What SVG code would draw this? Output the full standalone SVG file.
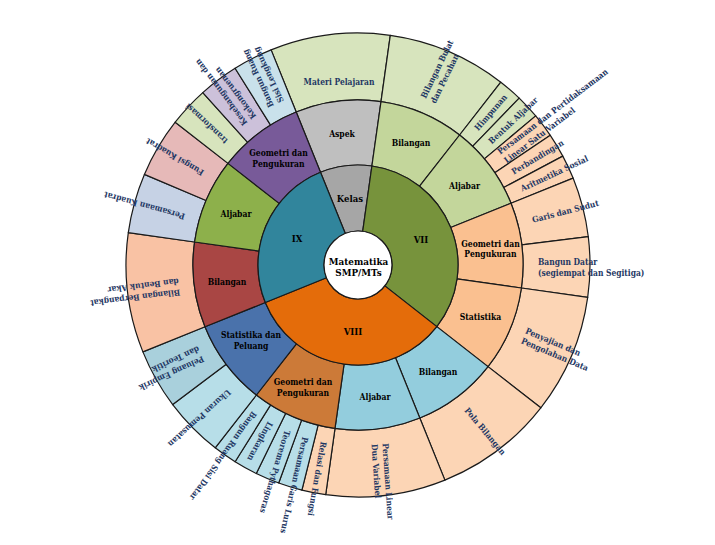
<svg xmlns="http://www.w3.org/2000/svg" width="715" height="545" viewBox="0 0 715 545">
<style>
path{stroke:#1a1a1a;stroke-width:1.2;stroke-linejoin:round}
text{font-family:"DejaVu Serif Condensed","DejaVu Serif",serif;font-stretch:condensed;font-weight:bold}
.l1{font-size:9.5px;fill:#000;text-anchor:middle}
.l2{font-size:8.5px;fill:#000;text-anchor:middle}
.l3{font-size:8.4px;fill:#1f3864}
.c{font-size:9.8px;fill:#000;text-anchor:middle}
.gray1{fill:#a6a6a6}.g7{fill:#77933c}.o8{fill:#e46c0a}.t9{fill:#31859c}
.gray2{fill:#bfbfbf}.lg{fill:#c3d69b}.pe{fill:#fac090}.lb{fill:#93cddd}.br{fill:#cc7a38}.bl{fill:#4a72ab}.rd{fill:#a94644}.gr{fill:#8db04b}.pu{fill:#785a99}
.g3{fill:#d7e4bd}.p3{fill:#fcd5b5}.b3{fill:#b7dee8}.pl3{fill:#a9d0dc}.s3{fill:#f9c2a4}.k3{fill:#c6d2e5}.f3{fill:#e6b9b8}.v3{fill:#ccc1da}.c3{fill:#c9e1eb}
</style>
<rect width="715" height="545" fill="#fff"/>

<g id="ring3">
<g id="materi-pelajaran"><path class="g3" d="M271.1,49.9A232,232 0 0 1 390.3,35.3L381,101.6A165,165 0 0 0 296.2,112Z"/><text class="l3" x="339" y="85" text-anchor="middle">Materi Pelajaran</text></g>
<g id="bilangan-bulat"><path class="g3" d="M390.3,35.3A232,232 0 0 1 500.8,82.2L459.6,135A165,165 0 0 0 381,101.6Z"/><text class="l3" transform="translate(427.9,100.2) rotate(-64)"><tspan x="0" y="-2.5">Bilangan Bulat</tspan><tspan x="0" y="8.5">dan Pecahan</tspan></text></g>
<g id="himpunan"><path class="g3" d="M500.8,82.2A232,232 0 0 1 519.2,98.1L472.6,146.3A165,165 0 0 0 459.6,135Z"/><text class="l3" transform="translate(476.1,129.2) rotate(-49)"><tspan x="0" y="3">Himpunan</tspan></text></g>
<g id="bentuk-aljabar"><path class="g3" d="M519.2,98.1A232,232 0 0 1 535.7,115.9L484.4,158.9A165,165 0 0 0 472.6,146.3Z"/><text class="l3" transform="translate(489.7,142.2) rotate(-43)"><tspan x="0" y="3">Bentuk Aljabar</tspan></text></g>
<g id="persamaan-pertidaksamaan"><path class="p3" d="M535.7,115.9A232,232 0 0 1 550.3,135.3L494.8,172.7A165,165 0 0 0 484.4,158.9Z"/><text class="l3" transform="translate(501.7,156.7) rotate(-37)"><tspan x="0" y="-2.5">Persamaan dan Pertidaksamaan</tspan><tspan x="0" y="8.5">Linear Satu Variabel</tspan></text></g>
<g id="perbandingan"><path class="p3" d="M550.3,135.3A232,232 0 0 1 562.8,156.1L503.7,187.5A165,165 0 0 0 494.8,172.7Z"/><text class="l3" transform="translate(512.3,172.3) rotate(-31)"><tspan x="0" y="3">Perbandingan</tspan></text></g>
<g id="aritmetika-sosial"><path class="p3" d="M562.8,156.1A232,232 0 0 1 573.1,178.1L511,203.2A165,165 0 0 0 503.7,187.5Z"/><text class="l3" transform="translate(521.1,188.9) rotate(-25)"><tspan x="0" y="3">Aritmetika Sosial</tspan></text></g>
<g id="garis-sudut"><path class="p3" d="M573.1,178.1A232,232 0 0 1 588.3,236.7L521.8,244.9A165,165 0 0 0 511,203.2Z"/><text class="l3" transform="translate(532.3,219.9) rotate(-14.5)"><tspan x="0" y="3">Garis dan Sudut</tspan></text></g>
<g id="bangun-datar"><path class="p3" d="M588.3,236.7A232,232 0 0 1 587.7,297.3L521.4,288A165,165 0 0 0 521.8,244.9Z"/><text class="l3" transform="translate(538,267.5)"><tspan x="0" y="-2.5">Bangun Datar</tspan><tspan x="0" y="8.5">(segiempat dan Segitiga)</tspan></text></g>
<g id="penyajian-data"><path class="p3" d="M587.7,297.3A232,232 0 0 1 540.8,407.8L488,366.6A165,165 0 0 0 521.4,288Z"/><text class="l3" transform="translate(523.7,335.3) rotate(23)"><tspan x="0" y="-2.5">Penyajian dan</tspan><tspan x="0" y="8.5">Pengolahan Data</tspan></text></g>
<g id="pola-bilangan"><path class="p3" d="M540.8,407.8A232,232 0 0 1 444.9,480.1L419.8,418A165,165 0 0 0 488,366.6Z"/><text class="l3" transform="translate(466.3,408.7) rotate(50)"><tspan x="0" y="3">Pola Bilangan</tspan></text></g>
<g id="pldv"><path class="p3" d="M444.9,480.1A232,232 0 0 1 325.7,494.7L335,428.4A165,165 0 0 0 419.8,418Z"/><text class="l3" transform="translate(379.9,443.7) rotate(86)"><tspan x="0" y="-2.5">Persamaan Linear</tspan><tspan x="0" y="8.5">Dua Variabel</tspan></text></g>
<g id="relasi-fungsi"><path class="p3" d="M325.7,494.7A232,232 0 0 1 301.9,490.1L318.1,425.1A165,165 0 0 0 335,428.4Z"/><text class="l3" transform="translate(323.7,441.7) rotate(100)"><tspan x="0" y="3">Relasi dan Fungsi</tspan></text></g>
<g id="persamaan-garis-lurus"><path class="b3" d="M301.9,490.1A232,232 0 0 1 278.7,483L301.6,420.1A165,165 0 0 0 318.1,425.1Z"/><text class="l3" transform="translate(305.4,437.1) rotate(103)"><tspan x="0" y="3">Persamaan Garis Lurus</tspan></text></g>
<g id="teorema-pythagoras"><path class="b3" d="M278.7,483A232,232 0 0 1 256.3,473.5L285.7,413.3A165,165 0 0 0 301.6,420.1Z"/><text class="l3" transform="translate(287.7,430.7) rotate(107)"><tspan x="0" y="3">Teorema Pythagoras</tspan></text></g>
<g id="lingkaran"><path class="b3" d="M256.3,473.5A232,232 0 0 1 235.1,461.7L270.6,404.9A165,165 0 0 0 285.7,413.3Z"/><text class="l3" transform="translate(270.7,422.4) rotate(119)"><tspan x="0" y="3">Lingkaran</tspan></text></g>
<g id="bangun-ruang-sisi-datar"><path class="b3" d="M235.1,461.7A232,232 0 0 1 215.2,447.8L256.4,395A165,165 0 0 0 270.6,404.9Z"/><text class="l3" transform="translate(254.8,412.5) rotate(126)"><tspan x="0" y="3">Bangun Ruang Sisi Datar</tspan></text></g>
<g id="ukuran-pemusatan"><path class="b3" d="M215.2,447.8A232,232 0 0 1 172.7,404.6L226.2,364.3A165,165 0 0 0 256.4,395Z"/><text class="l3" transform="translate(229.6,391.2) rotate(138)"><tspan x="0" y="3">Ukuran Pemusatan</tspan></text></g>
<g id="peluang"><path class="pl3" d="M172.7,404.6A232,232 0 0 1 142.9,351.9L205,326.8A165,165 0 0 0 226.2,364.3Z"/><text class="l3" transform="translate(201.3,353.6) rotate(155)"><tspan x="0" y="-2.5">Peluang Empirik</tspan><tspan x="0" y="8.5">dan Teoritik</tspan></text></g>
<g id="bilangan-berpangkat"><path class="s3" d="M142.9,351.9A232,232 0 0 1 128.3,232.7L194.6,242A165,165 0 0 0 205,326.8Z"/><text class="l3" transform="translate(179.4,286.9) rotate(173)"><tspan x="0" y="-2.5">Bilangan Berpangkat</tspan><tspan x="0" y="8.5">dan Bentuk Akar</tspan></text></g>
<g id="persamaan-kuadrat"><path class="k3" d="M128.3,232.7A232,232 0 0 1 144.4,174.4L206.1,200.5A165,165 0 0 0 194.6,242Z"/><text class="l3" transform="translate(184.6,216.9) rotate(195.5)"><tspan x="0" y="3">Persamaan Kuadrat</tspan></text></g>
<g id="fungsi-kuadrat"><path class="f3" d="M144.4,174.4A232,232 0 0 1 175.2,122.2L228,163.4A165,165 0 0 0 206.1,200.5Z"/><text class="l3" transform="translate(202.9,173.7) rotate(210.5)"><tspan x="0" y="3">Fungsi Kuadrat</tspan></text></g>
<g id="transformasi"><path class="g3" d="M175.2,122.2A232,232 0 0 1 202.8,92.6L247.6,142.4A165,165 0 0 0 228,163.4Z"/><text class="l3" transform="translate(226.3,142.2) rotate(223)"><tspan x="0" y="3">transformasi</tspan></text></g>
<g id="kesebangunan"><path class="v3" d="M202.8,92.6A232,232 0 0 1 235.1,68.3L270.6,125.1A165,165 0 0 0 247.6,142.4Z"/><text class="l3" transform="translate(249.7,121.3) rotate(233)"><tspan x="0" y="-2.5">Kesebangunan dan</tspan><tspan x="0" y="8.5">Kekongruenan</tspan></text></g>
<g id="bangun-ruang-sisi-lengkung"><path class="c3" d="M235.1,68.3A232,232 0 0 1 271.1,49.9L296.2,112A165,165 0 0 0 270.6,125.1Z"/><text class="l3" transform="translate(276.3,104.6) rotate(245)"><tspan x="0" y="-2.5">Bangun Ruang</tspan><tspan x="0" y="8.5">Sisi Lengkung</tspan></text></g>
</g>

<g id="ring2">
<g id="aspek"><path class="gray2" d="M296.2,112A165,165 0 0 1 381,101.6L371.9,166A100,100 0 0 0 320.5,172.3Z"/><text class="l2" x="342" y="136.5">Aspek</text></g>
<g id="vii-bilangan"><path class="lg" d="M381,101.6A165,165 0 0 1 459.6,135L419.6,186.2A100,100 0 0 0 371.9,166Z"/><text class="l2" x="411" y="145.5">Bilangan</text></g>
<g id="vii-aljabar"><path class="lg" d="M459.6,135A165,165 0 0 1 511,203.2L450.7,227.5A100,100 0 0 0 419.6,186.2Z"/><text class="l2" x="464.5" y="188.5">Aljabar</text></g>
<g id="vii-geometri"><path class="pe" d="M511,203.2A165,165 0 0 1 521.4,288L457,278.9A100,100 0 0 0 450.7,227.5Z"/><text class="l2" x="490.5" y="246.5">Geometri dan<tspan x="490.5" dy="10.5">Pengukuran</tspan></text></g>
<g id="vii-statistika"><path class="pe" d="M521.4,288A165,165 0 0 1 488,366.6L436.8,326.6A100,100 0 0 0 457,278.9Z"/><text class="l2" x="480.5" y="320">Statistika</text></g>
<g id="viii-bilangan"><path class="lb" d="M488,366.6A165,165 0 0 1 419.8,418L395.5,357.7A100,100 0 0 0 436.8,326.6Z"/><text class="l2" x="438" y="374.5">Bilangan</text></g>
<g id="viii-aljabar"><path class="lb" d="M419.8,418A165,165 0 0 1 335,428.4L344.1,364A100,100 0 0 0 395.5,357.7Z"/><text class="l2" x="375" y="400">Aljabar</text></g>
<g id="viii-geometri"><path class="br" d="M335,428.4A165,165 0 0 1 256.4,395L296.4,343.8A100,100 0 0 0 344.1,364Z"/><text class="l2" x="303" y="385">Geometri dan<tspan x="303" dy="10.5">Pengukuran</tspan></text></g>
<g id="viii-statistika-peluang"><path class="bl" d="M256.4,395A165,165 0 0 1 205,326.8L265.3,302.5A100,100 0 0 0 296.4,343.8Z"/><text class="l2" x="251" y="338">Statistika dan<tspan x="251" dy="10.5">Peluang</tspan></text></g>
<g id="ix-bilangan"><path class="rd" d="M205,326.8A165,165 0 0 1 194.6,242L259,251.1A100,100 0 0 0 265.3,302.5Z"/><text class="l2" x="227" y="284.5">Bilangan</text></g>
<g id="ix-aljabar"><path class="gr" d="M194.6,242A165,165 0 0 1 228,163.4L279.2,203.4A100,100 0 0 0 259,251.1Z"/><text class="l2" x="236" y="216.5">Aljabar</text></g>
<g id="ix-geometri"><path class="pu" d="M228,163.4A165,165 0 0 1 296.2,112L320.5,172.3A100,100 0 0 0 279.2,203.4Z"/><text class="l2" x="278.5" y="156">Geometri dan<tspan x="278.5" dy="10.5">Pengukuran</tspan></text></g>
</g>

<g id="ring1">
<g id="kelas"><path class="gray1" d="M320.5,172.3A100,100 0 0 1 371.9,166L362.7,231.3A34,34 0 0 0 345.3,233.5Z"/><text class="l1" x="350" y="201.5">Kelas</text></g>
<g id="vii"><path class="g7" d="M371.9,166A100,100 0 0 1 436.8,326.6L384.8,285.9A34,34 0 0 0 362.7,231.3Z"/><text class="l1" x="421" y="243">VII</text></g>
<g id="viii"><path class="o8" d="M436.8,326.6A100,100 0 0 1 265.3,302.5L326.5,277.7A34,34 0 0 0 384.8,285.9Z"/><text class="l1" x="353" y="335">VIII</text></g>
<g id="ix"><path class="t9" d="M265.3,302.5A100,100 0 0 1 320.5,172.3L345.3,233.5A34,34 0 0 0 326.5,277.7Z"/><text class="l1" x="297" y="242">IX</text></g>
</g>

<g id="center">
<circle cx="358" cy="265" r="34" fill="#fff" stroke="#1a1a1a" stroke-width="1.2"/>
<text class="c" x="358.5" y="264.5">Matematika<tspan x="358.5" dy="11">SMP/MTs</tspan></text>
</g>
</svg>
